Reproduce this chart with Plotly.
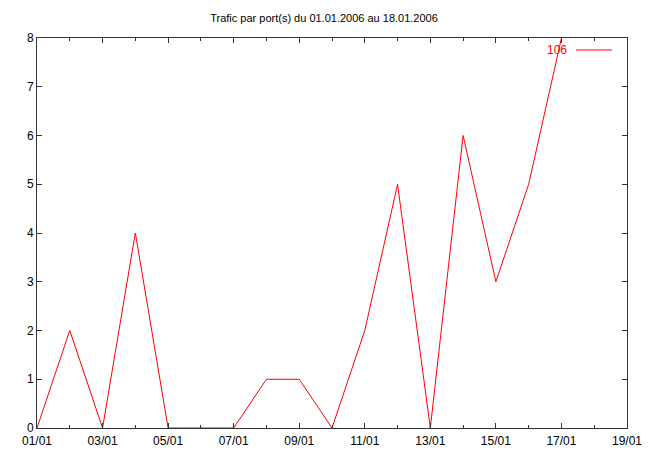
import plotly.graph_objects as go

dates = ["2006-01-01", "2006-01-02", "2006-01-03", "2006-01-04", "2006-01-05",
         "2006-01-06", "2006-01-07", "2006-01-08", "2006-01-09", "2006-01-10",
         "2006-01-11", "2006-01-12", "2006-01-13", "2006-01-14", "2006-01-15",
         "2006-01-16", "2006-01-17"]
port_106 = [0, 2, 0, 4, 0, 0, 0, 1, 1, 0, 2, 5, 0, 6, 3, 5, 8]
series_name = "106"
title = "Trafic par port(s) du 01.01.2006 au 18.01.2006"

FONT = "Liberation Sans, Arial, sans-serif"

fig = go.Figure()
fig.add_trace(go.Scatter(x=dates, y=port_106, mode="lines", name=series_name,
                         line=dict(color="#ff0000", width=1), showlegend=False))

# gnuplot-style key: text then line sample
fig.add_annotation(xref="paper", yref="paper", x=(569 - 37) / 590, y=(428 - 50) / 390,
                   text=series_name, showarrow=False, xanchor="right", yanchor="middle",
                   font=dict(family=FONT, size=12, color="#ff0000"))
fig.add_shape(type="line", xref="paper", yref="paper",
              x0=(576 - 37) / 590, x1=(612 - 37) / 590,
              y0=(428 - 50) / 390, y1=(428 - 50) / 390,
              line=dict(color="#ff0000", width=1))

fig.update_layout(
    width=648, height=454,
    margin=dict(l=37, r=21, t=38, b=26),
    paper_bgcolor="white", plot_bgcolor="white",
    title=dict(text=title, x=0.5, xanchor="center", y=1 - 18 / 454, yanchor="middle",
               font=dict(family=FONT, size=11, color="black")),
    font=dict(family=FONT, size=12, color="black"),
    xaxis=dict(type="date", range=["2006-01-01", "2006-01-19"], automargin=False,
               tick0="2006-01-01", dtick=2 * 86400000, tickformat="%d/%m",
               ticks="inside", ticklen=5, tickcolor="#333", mirror="ticks",
               showline=True, linecolor="#333", linewidth=1, showgrid=False,
               zeroline=False, ticklabelstandoff=2,
               minor=dict(dtick=86400000, ticks="inside", ticklen=3, tickcolor="#333",
                          showgrid=False),
               tickfont=dict(family=FONT, size=12, color="black")),
    yaxis=dict(range=[0, 8], dtick=1, ticks="inside", ticklen=5, tickcolor="#333",
               automargin=False,
               mirror="ticks", showline=True, linecolor="#333", linewidth=1,
               showgrid=False, zeroline=False,
               tickfont=dict(family=FONT, size=12, color="black")),
)

fig.write_html("out.html", config={"displayModeBar": False},
               post_script="document.body.style.margin='0px';")
